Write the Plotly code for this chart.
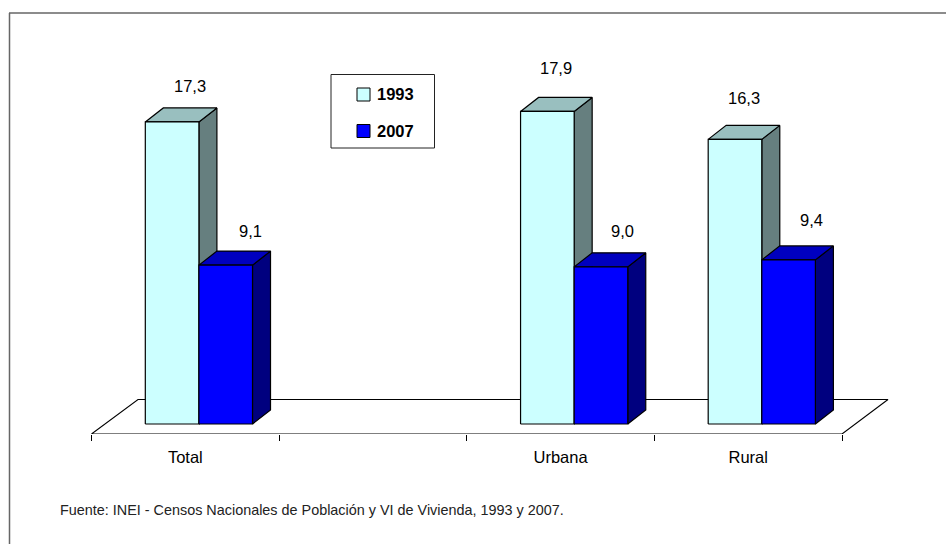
import plotly.graph_objects as go

categories = ["Total", "", "Urbana", "Rural"]
series_names = ["1993", "2007"]
values_1993 = [17.3, None, 17.9, 16.3]
values_2007 = [9.1, None, 9.0, 9.4]
value_labels_1993 = ["17,3", "", "17,9", "16,3"]
value_labels_2007 = ["9,1", "", "9,0", "9,4"]
source_text = "Fuente: INEI - Censos Nacionales de Población y VI de Vivienda, 1993 y 2007."

# layout constants (page pixels)
W, H = 946, 544
TICK_L, TICK_R = 91.5, 842.0
PL, PR, PB, PT = 60.0, 900.0, 434.0, 13.0
BAND = (TICK_R - TICK_L) / 4
UNIT = 17.46
FLOOR_DROP = (434 - 424) / UNIT
DX, DY = 18 / BAND, 14 / UNIT
BAR_W = 53.6 / BAND
PAIR_SHIFT = 13.6 / BAND
FONT = "Liberation Sans"
# label nudges in pixels: (dx, up) per category index
nudge_1993 = {0: (0, 22), 2: (-9, 29), 3: (-9, 27)}
nudge_2007 = {0: (6.5, 20), 2: (3.7, 22), 3: (5, 26)}

colors = {
    "1993": dict(front="#CCFFFF", top="#99BFBF", side="#667F7F"),
    "2007": dict(front="#0000FF", top="#0000BF", side="#00007F"),
}

def px(x):
    return (x - PL) / (PR - PL)

def py(y):
    return (PB - y) / (PB - PT)

fig = go.Figure()

def poly(xs, ys, fill, line="#000000", width=1.2):
    fig.add_trace(go.Scatter(
        x=xs + xs[:1], y=ys + ys[:1], mode="lines", fill="toself", fillcolor=fill,
        line=dict(color=line, width=width), hoverinfo="skip", showlegend=False))

# floor
fx0, fx1 = -0.5, 3.5
floor_h = 34.5 / UNIT
poly([fx0, fx1, fx1 + 46 / BAND, fx0 + 46.5 / BAND],
     [-FLOOR_DROP, -FLOOR_DROP, floor_h - FLOOR_DROP, floor_h - FLOOR_DROP],
     "#FFFFFF", width=1.1)

def bar3d(x0, v, name):
    c = colors[name]
    x1 = x0 + BAR_W
    poly([x1, x1 + DX, x1 + DX, x1], [0, DY, v + DY, v], c["side"])
    poly([x0, x1, x1 + DX, x0 + DX], [v, v, v + DY, v + DY], c["top"])
    poly([x0, x1, x1, x0], [0, 0, v, v], c["front"])

annotations = []
for i, _ in enumerate(categories):
    if values_1993[i] is None:
        continue
    start = i + PAIR_SHIFT - BAR_W
    bar3d(start, values_1993[i], "1993")
    bar3d(start + BAR_W, values_2007[i], "2007")
    for x, v, t, n in [
        (start + BAR_W / 2 + DX, values_1993[i], value_labels_1993[i], nudge_1993[i]),
        (start + 1.5 * BAR_W + DX, values_2007[i], value_labels_2007[i], nudge_2007[i]),
    ]:
        annotations.append(dict(x=x, y=v + DY, text=t, showarrow=False, xanchor="center", yanchor="middle",
                                xshift=n[0], yshift=n[1],
                                font=dict(family=FONT, size=16.5, color="#000000")))

shapes = [
    dict(type="line", xref="paper", yref="paper", x0=px(9.5), x1=px(9.5), y0=py(544), y1=py(13),
         line=dict(color="#666666", width=1.5)),
    dict(type="line", xref="paper", yref="paper", x0=px(9), x1=px(946), y0=py(13), y1=py(13),
         line=dict(color="#666666", width=1.5)),
    dict(type="rect", xref="paper", yref="paper", x0=px(331), x1=px(434.5), y0=py(148), y1=py(74.5),
         line=dict(color="#222222", width=1), fillcolor="#FFFFFF"),
]
for name, top in zip(series_names, [88, 124.5]):
    shapes.append(dict(type="rect", xref="paper", yref="paper", x0=px(357), x1=px(370), y0=py(top + 13), y1=py(top),
                       line=dict(color="#000000", width=1), fillcolor=colors[name]["front"]))
    annotations.append(dict(xref="paper", yref="paper", x=px(375), y=py(top + 6), text=f"<b>{name}</b>",
                            showarrow=False, xanchor="left", yanchor="middle",
                            font=dict(family=FONT, size=16.5, color="#000000")))
annotations.append(dict(xref="paper", yref="paper", x=px(58), y=py(510), text=source_text, showarrow=False,
                        xanchor="left", yanchor="middle",
                        font=dict(family=FONT, size=14.4, color="#222222")))

x_lo = -0.5 + (PL - TICK_L) / BAND
x_hi = 3.5 + (PR - TICK_R) / BAND
fig.update_layout(
    width=W, height=H, autosize=False, paper_bgcolor="#FFFFFF", plot_bgcolor="rgba(0,0,0,0)",
    margin=dict(l=PL, r=W - PR, t=PT, b=H - PB, pad=0),
    showlegend=False, shapes=shapes, annotations=annotations,
    xaxis=dict(range=[x_lo, x_hi], tickmode="array", tickvals=list(range(4)), ticktext=categories,
               ticks="", showgrid=False, zeroline=False, showline=False, ticklabelstandoff=11,
               tickfont=dict(family=FONT, size=16.5, color="#000000"),
               minor=dict(tickmode="array", tickvals=[-0.5, 0.5, 1.5, 2.5, 3.5], ticks="outside", ticklen=6,
                          tickcolor="#000000", tickwidth=1, showgrid=False)),
    yaxis=dict(range=[-FLOOR_DROP, (PB - PT) / UNIT - FLOOR_DROP], visible=False, showgrid=False, zeroline=False),
)
fig.write_html("out.html", config=dict(displayModeBar=False),
               post_script="document.body.style.margin='0';document.body.style.overflow='hidden';")
